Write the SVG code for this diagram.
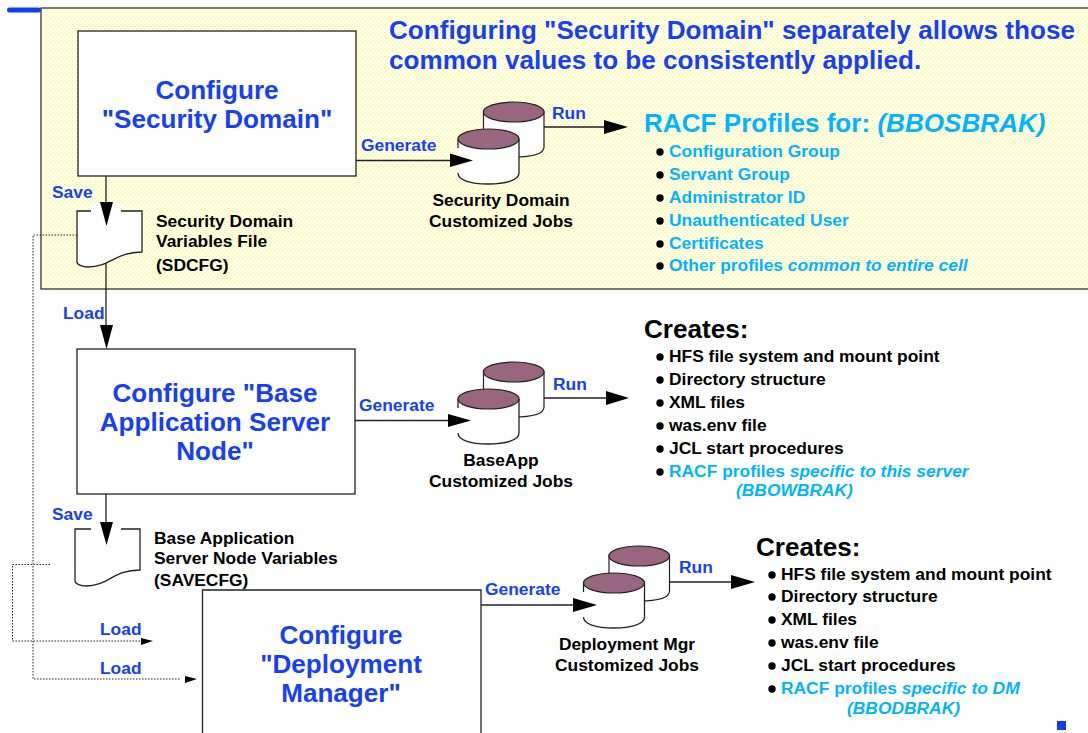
<svg xmlns="http://www.w3.org/2000/svg" width="1088" height="733" viewBox="0 0 1088 733">
<style>
text{font-family:"Liberation Sans",Arial,sans-serif;font-weight:bold;font-size:17.4px}
.blue{fill:#1540f5}.sky{fill:#00b4ff}.blk{fill:#000}
.h{font-size:26.1px}
.m{text-anchor:middle}
.i{font-style:italic}
.box{fill:#fff;stroke:#222;stroke-width:1.3}
.doc{fill:#fff;stroke:#222;stroke-width:1.3}
.line{fill:none;stroke:#222;stroke-width:1.3}
.dot{fill:none;stroke:#222;stroke-width:1;stroke-dasharray:1.5 1.5}
.top{fill:#996680;stroke:#222;stroke-width:1.2}
.cyl{fill:#fff;stroke:#222;stroke-width:1.2}
</style>
<defs>
<pattern id="dots" width="4" height="4" patternUnits="userSpaceOnUse"><rect width="4" height="4" fill="#fffff2"/><rect width="2" height="1" fill="#fbfb8e"/><rect x="2" y="2" width="2" height="1" fill="#fbfb8e"/></pattern>
<g id="cyl2">
<path class="cyl" d="M483.500 112V147C483.500 154 496 157 513.500 157S544 154 544 147V112Z"/>
<ellipse class="top" cx="513.700" cy="112" rx="30.300" ry="10"/>
<path d="M458 139V173C458 180 470 184 488 184S519 180 519 173V139Z" fill="#fff"/>
<path class="line" d="M458 139V148M458 173C458 180 470 184 488 184S519 180 519 173V139"/>
<ellipse class="top" cx="488.500" cy="139" rx="30.500" ry="10"/>
</g>
</defs>
<rect x="41" y="8" width="1048" height="281" fill="url(#dots)" stroke="#333" stroke-width="1.300"/>
<rect x="7" y="7.500" width="34" height="5" rx="2.500" fill="#0f3cf5"/>
<g id="node-panel-title">
<text class="blue h" x="389" y="39">Configuring "Security Domain" separately allows those</text>
<text class="blue h" x="389" y="69">common values to be consistently applied.</text>
</g>
<g id="connectors">
<path class="line" d="M106 176V210M106 262V330M106 494V526M356 160.500H455M544 127H606M354 420.500H453M544 398H611M478 605H579M669 582H737"/>
<path class="dot" d="M77 235H33V679H180M50 564.500H12.500V641H140"/>
</g>
<g id="node-configure-security">
<rect class="box" x="78" y="31" width="278" height="145"/>
<text class="blue h m" x="217" y="99">Configure</text>
<text class="blue h m" x="217" y="128">"Security Domain"</text>
</g>
<g id="node-security-file">
<path class="doc" d="M77 211H142V252C115 252 110 267 88 267C83 267 77 265 77 262Z"/>
<rect x="91" y="203" width="30" height="10" fill="#fff"/>
<text class="blk" x="156" y="227">Security Domain</text>
<text class="blk" x="156" y="247">Variables File</text>
<text class="blk" x="156" y="271">(SDCFG)</text>
</g>
<g id="node-security-jobs">
<use href="#cyl2"/>
<text class="blk m" x="501" y="206">Security Domain</text>
<text class="blk m" x="501" y="227">Customized Jobs</text>
</g>
<g id="node-racf">
<text x="644" y="132" class="sky h">RACF Profiles for: <tspan class="i">(BBOSBRAK)</tspan></text>
<text x="669" y="157" class="sky">Configuration Group</text>
<text x="669" y="180" class="sky">Servant Group</text>
<text x="669" y="203" class="sky">Administrator ID</text>
<text x="669" y="226" class="sky">Unauthenticated User</text>
<text x="669" y="249" class="sky">Certificates</text>
<text x="669" y="271" class="sky">Other profiles <tspan class="i">common to entire cell</tspan></text>
<g fill="#000"><circle cx="660" cy="152" r="3.700"/><circle cx="660" cy="175" r="3.700"/><circle cx="660" cy="198" r="3.700"/><circle cx="660" cy="221" r="3.700"/><circle cx="660" cy="244" r="3.700"/><circle cx="660" cy="266" r="3.700"/></g>
</g>
<g id="node-configure-base">
<rect class="box" x="77" y="349" width="278" height="145"/>
<text class="blue h m" x="215" y="402">Configure "Base</text>
<text class="blue h m" x="215" y="431">Application Server</text>
<text class="blue h m" x="215" y="460">Node"</text>
</g>
<g id="node-base-file">
<path class="doc" d="M75 529H140V570C113 570 108 586 86 586C81 586 75 584 75 581Z"/>
<rect x="91" y="524" width="30" height="8" fill="#fff"/>
<text class="blk" x="154" y="544">Base Application</text>
<text class="blk" x="154" y="564">Server Node Variables</text>
<text class="blk" x="154" y="586">(SAVECFG)</text>
</g>
<g id="node-base-jobs">
<use href="#cyl2" y="260"/>
<text class="blk m" x="501" y="466">BaseApp</text>
<text class="blk m" x="501" y="487">Customized Jobs</text>
</g>
<g id="node-creates-base">
<text x="644" y="338" class="blk h">Creates:</text>
<text x="669" y="362" class="blk">HFS file system and mount point</text>
<text x="669" y="385" class="blk">Directory structure</text>
<text x="669" y="408" class="blk">XML files</text>
<text x="669" y="431" class="blk">was.env file</text>
<text x="669" y="454" class="blk">JCL start procedures</text>
<text x="669" y="477" class="sky">RACF profiles <tspan class="i">specific to this server</tspan></text>
<text x="736" y="496" class="sky i">(BBOWBRAK)</text>
<g fill="#000"><circle cx="660" cy="357" r="3.700"/><circle cx="660" cy="380" r="3.700"/><circle cx="660" cy="403" r="3.700"/><circle cx="660" cy="426" r="3.700"/><circle cx="660" cy="449" r="3.700"/><circle cx="660" cy="472" r="3.700"/></g>
</g>
<g id="node-configure-dm">
<path class="box" d="M202.500 733V590H481V733"/>
<text class="blue h m" x="341" y="644">Configure</text>
<text class="blue h m" x="341" y="673">"Deployment</text>
<text class="blue h m" x="341" y="702">Manager"</text>
</g>
<g id="node-dm-jobs">
<use href="#cyl2" x="125.500" y="444"/>
<text class="blk m" x="627" y="650">Deployment Mgr</text>
<text class="blk m" x="627" y="671">Customized Jobs</text>
</g>
<g id="node-creates-dm">
<text x="756" y="556" class="blk h">Creates:</text>
<text x="781" y="580" class="blk">HFS file system and mount point</text>
<text x="781" y="602" class="blk">Directory structure</text>
<text x="781" y="625" class="blk">XML files</text>
<text x="781" y="648" class="blk">was.env file</text>
<text x="781" y="671" class="blk">JCL start procedures</text>
<text x="781" y="694" class="sky">RACF profiles <tspan class="i">specific to DM</tspan></text>
<text x="847" y="714" class="sky i">(BBODBRAK)</text>
<g fill="#000"><circle cx="772" cy="575" r="3.700"/><circle cx="772" cy="597" r="3.700"/><circle cx="772" cy="620" r="3.700"/><circle cx="772" cy="643" r="3.700"/><circle cx="772" cy="666" r="3.700"/><circle cx="772" cy="689" r="3.700"/></g>
</g>
<g id="arrowheads" fill="#000">
<path d="M100 202H113L106.500 226ZM100 325H113L106.500 349ZM100 522H113L106.500 545Z"/>
<path d="M450 153.500L473 160.500L450 167ZM604 120L628 127L604 134ZM448 414L471 420.500L448 427ZM606 391L629 398L606 405ZM573 598L597 605L573 612ZM731 575L755 582L731 589Z"/>
<path d="M141 638L153 641L141 645ZM185 676L197 679L185 683Z"/>
</g>
<g id="labels">
<text class="blue" x="52" y="198">Save</text>
<text class="blue" x="63" y="319">Load</text>
<text class="blue" x="52" y="520">Save</text>
<text class="blue" x="100" y="635">Load</text>
<text class="blue" x="100" y="674">Load</text>
<text class="blue" x="361" y="151">Generate</text>
<text class="blue" x="552" y="119">Run</text>
<text class="blue" x="359" y="411">Generate</text>
<text class="blue" x="553" y="390">Run</text>
<text class="blue" x="485" y="595">Generate</text>
<text class="blue" x="679" y="573">Run</text>
</g>
<rect x="1057" y="721" width="9" height="9" fill="#0f3cf5"/>
</svg>
